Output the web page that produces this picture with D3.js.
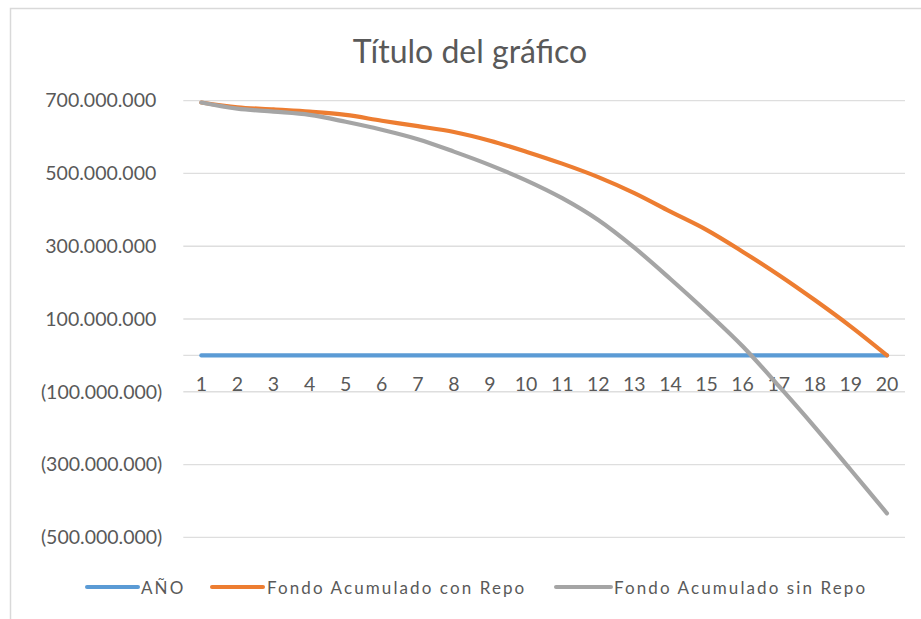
<!DOCTYPE html>
<html>
<head>
<meta charset="utf-8">
<script src="https://cdn.jsdelivr.net/npm/d3@7/dist/d3.min.js"></script>
<style>
  html, body { margin: 0; padding: 0; background: #ffffff; }
  svg { display: block; }
  text { font-family: Lato, "Open Sans", sans-serif; fill: #595959; }
</style>
</head>
<body>
<svg id="chart" width="921" height="619"></svg>
<script>
const titleText = "Título del gráfico";
const years = [1, 2, 3, 4, 5, 6, 7, 8, 9, 10, 11, 12, 13, 14, 15, 16, 17, 18, 19, 20];
const anio = [1, 2, 3, 4, 5, 6, 7, 8, 9, 10, 11, 12, 13, 14, 15, 16, 17, 18, 19, 20];
const conRepo = [695000000, 682000000, 676000000, 670000000, 661000000, 645000000, 630000000, 614000000, 590000000, 560000000,
                 527000000, 490000000, 446000000, 395000000, 345000000, 285000000, 221000000, 152000000, 79000000, 0];
const sinRepo = [695000000, 678000000, 670000000, 661000000, 642000000, 620000000, 594000000, 560000000, 523000000, 481000000,
                 432000000, 372000000, 296000000, 210000000, 120000000, 25000000, -84000000, -197000000, -315000000, -434000000];
const yTicks = [700000000, 500000000, 300000000, 100000000, -100000000, -300000000, -500000000];
const gridValues = [700000000, 500000000, 300000000, 100000000, 0, -100000000, -300000000, -500000000];
const seriesNames = ["AÑO", "Fondo Acumulado con Repo", "Fondo Acumulado sin Repo"];
const seriesColors = ["#5b9bd5", "#ed7d31", "#a5a5a5"];

const svg = d3.select("#chart");
const plot = { left: 183.3, right: 905, top: 100.7, bottom: 537.3 };

// chart border
svg.append("rect")
  .attr("x", 10.5).attr("y", 8.5).attr("width", 940).attr("height", 700)
  .attr("fill", "none").attr("stroke", "#d9d9d9").attr("stroke-width", 1.5);

const x = d3.scaleBand().domain(years).range([plot.left, plot.right]);
const xc = d => x(d) + x.bandwidth() / 2;
const y = d3.scaleLinear().domain([-500000000, 700000000]).range([plot.bottom, plot.top]);

const locale = d3.formatLocale({ decimal: ",", thousands: ".", grouping: [3], currency: ["", ""] });
const base = locale.format(",.0f");
const fmt = v => v < 0 ? "(" + base(-v) + ")" : base(v);

// gridlines
svg.append("g").selectAll("line").data(gridValues).join("line")
  .attr("x1", plot.left).attr("x2", plot.right)
  .attr("y1", d => y(d)).attr("y2", d => y(d))
  .attr("stroke", "#dedede").attr("stroke-width", 1.3);

// y axis labels
const yAxis = svg.append("g").attr("transform", `translate(${plot.left},0)`)
  .call(d3.axisLeft(y).tickValues(yTicks).tickFormat(fmt).tickSize(0).tickPadding(27));
yAxis.select(".domain").remove();
yAxis.selectAll("text")
  .style("font-family", "Lato, 'Open Sans', sans-serif")
  .attr("font-size", 19.5).attr("fill", "#595959")
  .attr("dx", d => d < 0 ? 6 : 0);

// x axis labels
const xAxis = svg.append("g").attr("transform", `translate(0,${y(0)})`)
  .call(d3.axisBottom(x).tickSize(0).tickPadding(22));
xAxis.select(".domain").remove();
xAxis.selectAll("text")
  .style("font-family", "Lato, 'Open Sans', sans-serif")
  .attr("font-size", 19.5).attr("fill", "#595959");

// lines
const allSeries = [anio, conRepo, sinRepo];
const line = d3.line().x((d, i) => xc(years[i])).y(d => y(d)).curve(d3.curveCatmullRom.alpha(0.5));
svg.append("g").selectAll("path").data(allSeries).join("path")
  .attr("d", d => line(d))
  .attr("fill", "none")
  .attr("stroke", (d, i) => seriesColors[i])
  .attr("stroke-width", 4.2)
  .attr("stroke-linecap", "round")
  .attr("stroke-linejoin", "round");

// title
svg.append("text")
  .attr("x", 470).attr("y", 63)
  .attr("text-anchor", "middle")
  .attr("font-size", 32)
  .text(titleText);

// legend
const legendY = 588;
const legendItems = [
  { x1: 87, x2: 138, tx: 141 },
  { x1: 212, x2: 263, tx: 267 },
  { x1: 556, x2: 611, tx: 614 }
];
const lg = svg.append("g");
legendItems.forEach((it, i) => {
  lg.append("line")
    .attr("x1", it.x1).attr("x2", it.x2).attr("y1", legendY - 1).attr("y2", legendY - 1)
    .attr("stroke", seriesColors[i]).attr("stroke-width", 4).attr("stroke-linecap", "round");
  lg.append("text")
    .attr("x", it.tx).attr("y", legendY + 6)
    .attr("font-size", 17)
    .attr("letter-spacing", 2.1)
    .text(seriesNames[i]);
});
</script>
</body>
</html>
